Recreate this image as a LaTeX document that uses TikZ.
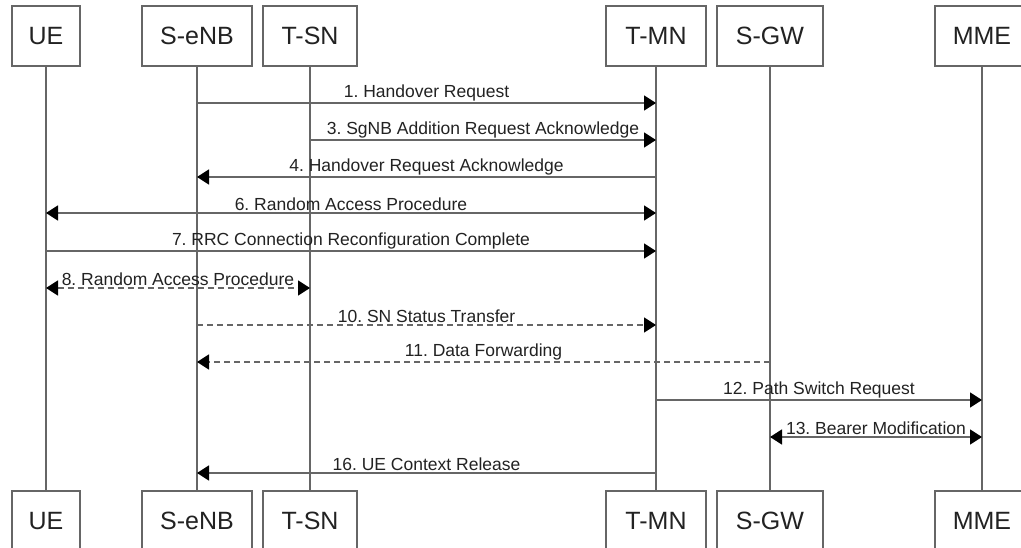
\documentclass[tikz,border=0pt]{standalone}
\usepackage{fontspec}
\setmainfont{Liberation Sans}
\usetikzlibrary{arrows.meta}
\definecolor{ln}{HTML}{666666}
\definecolor{tx}{HTML}{222222}
\frenchspacing
\tikzset{
  ent/.style={draw=ln, line width=1.6pt, fill=white, minimum height=60pt, inner sep=0pt,
     text=tx, font=\fontsize{25}{28}\selectfont},
  life/.style={draw=ln, line width=1.6pt},
  msg/.style={draw=ln, line width=1.6pt, -{Triangle[length=12pt,width=15pt,color=black]}},
  bmsg/.style={draw=ln, line width=1.6pt, {Triangle[length=12pt,width=15pt,color=black]}-{Triangle[length=12pt,width=15pt,color=black]}},
  dsh/.style={dash pattern=on 6pt off 4pt},
  lab/.style={above, inner sep=1.5pt, text=tx, font=\fontsize{17.5}{20}\selectfont\frenchspacing},
}
\begin{document}
\begin{tikzpicture}[x=1pt,y=-1pt]
\useasboundingbox (0,0) rectangle (1021,548);
\clip (0,0) rectangle (1021,548);
% top boxes
\node[ent, minimum width=68pt]  (ue)   at (46,36)  {UE};
\node[ent, minimum width=110pt] (senb) at (197,36) {S-eNB};
\node[ent, minimum width=94pt]  (tsn)  at (310,36) {T-SN};
\node[ent, minimum width=100pt] (tmn)  at (656,36) {T-MN};
\node[ent, minimum width=106pt] (sgw)  at (770,36) {S-GW};
\node[ent, minimum width=94pt]  (mme)  at (982,36) {MME};
% bottom boxes
\node[ent, minimum width=68pt]  (ueb)   at (46,521)  {UE};
\node[ent, minimum width=110pt] (senbb) at (197,521) {S-eNB};
\node[ent, minimum width=94pt]  (tsnb)  at (310,521) {T-SN};
\node[ent, minimum width=100pt] (tmnb)  at (656,521) {T-MN};
\node[ent, minimum width=106pt] (sgwb)  at (770,521) {S-GW};
\node[ent, minimum width=94pt]  (mmeb)  at (982,521) {MME};
% lifelines
\draw[life] (ue) -- (ueb);
\draw[life] (senb) -- (senbb);
\draw[life] (tsn) -- (tsnb);
\draw[life] (tmn) -- (tmnb);
\draw[life] (sgw) -- (sgwb);
\draw[life] (mme) -- (mmeb);
% message rows
\coordinate (r1) at (0,103);
\coordinate (r3) at (0,140);
\coordinate (r4) at (0,177);
\coordinate (r6) at (0,213);
\coordinate (r7) at (0,251);
\coordinate (r8) at (0,288);
\coordinate (r10) at (0,325);
\coordinate (r11) at (0,362);
\coordinate (r12) at (0,400);
\coordinate (r13) at (0,437);
\coordinate (r16) at (0,473);
% messages
\draw[msg] (senb |- r1) -- node[lab] {1. Handover Request} (tmn |- r1);
\draw[msg] (tsn |- r3) -- node[lab] {3. SgNB Addition Request Acknowledge} (tmn |- r3);
\draw[msg] (tmn |- r4) -- node[lab] {4. Handover Request Acknowledge} (senb |- r4);
\draw[bmsg] (ue |- r6) -- node[lab] {6. Random Access Procedure} (tmn |- r6);
\draw[msg] (ue |- r7) -- node[lab] {7. RRC Connection Reconfiguration Complete} (tmn |- r7);
\draw[bmsg,dsh] (ue |- r8) -- node[lab] {8. Random Access Procedure} (tsn |- r8);
\draw[msg,dsh] (senb |- r10) -- node[lab] {10. SN Status Transfer} (tmn |- r10);
\draw[msg,dsh] (sgw |- r11) -- node[lab] {11. Data Forwarding} (senb |- r11);
\draw[msg] (tmn |- r12) -- node[lab] {12. Path Switch Request} (mme |- r12);
\draw[bmsg] (sgw |- r13) -- node[lab] {13. Bearer Modification} (mme |- r13);
\draw[msg] (tmn |- r16) -- node[lab] {16. UE Context Release} (senb |- r16);
\end{tikzpicture}
\end{document}
